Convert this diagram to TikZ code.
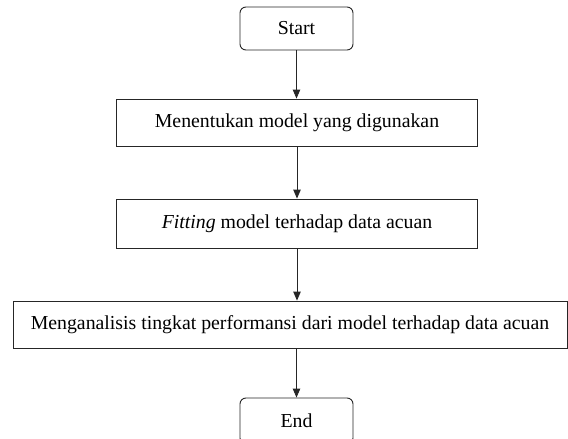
\documentclass[tikz,border=0pt]{standalone}
\usepackage{fontspec}
\setmainfont{Liberation Serif}
\usetikzlibrary{arrows.meta}
\begin{document}
\begin{tikzpicture}[x=1pt,y=-1pt,
  base/.style={draw=black!85, line width=0.9pt, inner sep=0pt, font=\fontsize{19.8}{23}\selectfont},
  terminal/.style={base, rounded corners=6pt, minimum width=113pt, minimum height=43pt},
  process/.style={base, minimum height=47pt},
  flow/.style={draw=black!85, line width=0.9pt, -{Triangle[length=9pt,width=7.5pt]}}]
\useasboundingbox (0,0) rectangle (568,439);
\fill[white] (0,0) rectangle (568,439);

% terminals and process steps
\node[terminal] (start) at (296.5,28.5) {Start};
\node[process, minimum width=361pt] (model) at (297,122.5) {Menentukan model yang digunakan};
\node[process, minimum width=361pt, minimum height=49pt] (fit) at (297,223.5) {\textit{Fitting} model terhadap data acuan};
\node[process, minimum width=554pt] (analisis) at (290,324.5) {Menganalisis tingkat performansi dari model terhadap data acuan};
\node[terminal, minimum height=46pt] (end) at (296.5,421) {End};

% connectors
\draw[flow] (start.south) -- (start.south |- model.north);
\draw[flow] (model.south) -- (model.south |- fit.north);
\draw[flow] (fit.south) -- (fit.south |- analisis.north);
\draw[flow] (end.north |- analisis.south) -- (end.north);
\end{tikzpicture}
\end{document}
